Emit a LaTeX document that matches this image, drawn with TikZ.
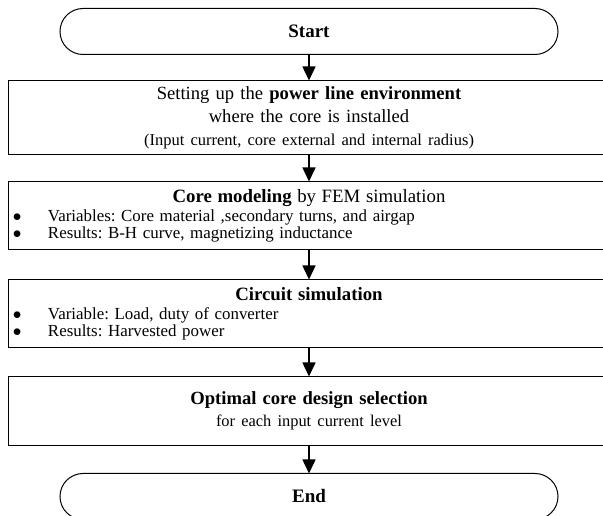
\documentclass[tikz,border=0pt]{standalone}
\usepackage{fontspec}
\setmainfont{Liberation Serif}
\frenchspacing
\usetikzlibrary{matrix,arrows.meta}
\tikzset{
term/.style={draw,line width=1pt,rounded corners=23pt,minimum width=498pt,minimum height=46pt,inner sep=0pt,outer sep=0pt,font=\fontsize{19}{23}\selectfont\bfseries},
stepbox/.style={draw,line width=1pt,text width=600pt,inner sep=0pt,outer sep=0pt,align=center,font=\fontsize{18.6}{23}\selectfont},
listbox/.style={draw,line width=1pt,text width=592pt,inner xsep=4pt,inner ysep=0pt,outer sep=0pt,minimum height=68pt,align=left,font=\fontsize{16.9}{17}\selectfont}
}
\newcommand{\ttl}[1]{\makebox[\hsize]{\fontsize{18.8}{19}\selectfont #1}\\[2pt]}
\newcommand{\itm}{\makebox[35pt][l]{$\bullet$}}

\begin{document}
\begin{tikzpicture}[x=1pt,y=1pt,>={Triangle[length=14pt,width=13pt]}]
\path[use as bounding box,clip] (0,0) rectangle (603,516);
\matrix[matrix of nodes,row sep=25pt,inner sep=0pt,outer sep=0pt,anchor=north] at (309,508)
{|[term,name=Start]| Start\\
|[stepbox,name=Env,minimum height=74pt]| {Setting up the \textbf{power line environment}\\ where the core is installed\\ {\fontsize{16.5}{23}\selectfont (Input current, core external and internal radius)}}\\[1pt]
|[listbox,name=Fem]| {\ttl{\textbf{Core modeling} by FEM simulation}\itm Variables: Core material ,secondary turns, and airgap\\ \itm Results: B-H curve, magnetizing inductance}\\[4pt]
|[listbox,name=Ckt]| {\ttl{\textbf{Circuit simulation}}\itm Variable: Load, duty of converter\\ \itm Results: Harvested power}\\[3pt]
|[stepbox,name=Opt,minimum height=69pt]| {\textbf{Optimal core design selection}\\[-1pt] {\fontsize{16.4}{23}\selectfont for each input current level}}\\[2pt]
|[term,name=End]| End\\};
\draw [->,line width=1.5pt]
(Start) edge (Env)
(Env) edge (Fem)
(Fem) edge (Ckt)
(Ckt) edge (Opt)
(Opt) edge (End);
\end{tikzpicture}
\end{document}
